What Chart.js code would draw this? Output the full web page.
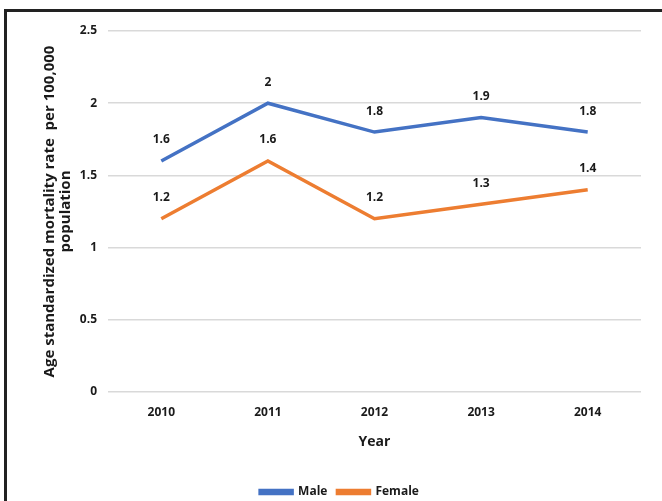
<!DOCTYPE html>
<html>
<head>
<meta charset="utf-8">
<script src="https://cdn.jsdelivr.net/npm/chart.js@4/dist/chart.umd.min.js"></script>
<style>
  body { margin: 0; background: #fff; }
  #wrap { position: relative; width: 662px; height: 501px; overflow: hidden; }
  #frameTop { position: absolute; left: 4px; top: 9px; width: 662px; height: 3px; background: #222; }
  #frameLeft { position: absolute; left: 4px; top: 9px; width: 3px; height: 500px; background: #222; }
</style>
</head>
<body>
<div id="wrap">
  <canvas id="lineChart" width="662" height="501"></canvas>
  <div id="frameTop"></div>
  <div id="frameLeft"></div>
</div>
<script>
// DATA
let years = ["2010", "2011", "2012", "2013", "2014"];
let maleRates = [1.6, 2, 1.8, 1.9, 1.8];
let femaleRates = [1.2, 1.6, 1.2, 1.3, 1.4];
let yTicks = [0, 0.5, 1, 1.5, 2, 2.5];

let fontFamily = "'Open Sans', sans-serif";
let textColor = '#1a1a1a';

// value labels above every point
let pointLabels = {
    id: 'pointLabels',
    afterDatasetsDraw(chart) {
        let ctx = chart.ctx;
        ctx.save();
        ctx.font = 'bold 12px ' + fontFamily;
        ctx.fillStyle = textColor;
        ctx.textAlign = 'center';
        ctx.textBaseline = 'middle';
        chart.data.datasets.forEach((ds, i) => {
            chart.getDatasetMeta(i).data.forEach((pt, j) => {
                ctx.fillText(String(ds.data[j]), pt.x, pt.y - 21);
            });
        });
        ctx.restore();
    }
};

let lineChartCtx = document.getElementById('lineChart').getContext('2d');
let lineChart = new Chart(lineChartCtx, {
    type: 'line',
    data: {
        labels: years,
        datasets: [{
            label: 'Male',
            data: maleRates,
            borderColor: '#4472C4',
            backgroundColor: '#4472C4',
            borderWidth: 3.5,
            pointRadius: 0,
            tension: 0
        }, {
            label: 'Female',
            data: femaleRates,
            borderColor: '#ED7D31',
            backgroundColor: '#ED7D31',
            borderWidth: 3.5,
            pointRadius: 0,
            tension: 0
        }]
    },
    options: {
        responsive: false,
        animation: false,
        layout: { padding: { left: 38, top: 31, right: 21, bottom: -7 } },
        plugins: {
            tooltip: { enabled: false },
            legend: {
                position: 'bottom',
                labels: {
                    boxWidth: 32,
                    boxHeight: 3,
                    padding: 10,
                    color: textColor,
                    font: { family: fontFamily, size: 12, weight: 'bold' }
                }
            }
        },
        scales: {
            x: {
                offset: true,
                grid: { display: false },
                border: { display: false },
                ticks: {
                    padding: 5,
                    color: textColor,
                    font: { family: fontFamily, size: 12, weight: 'bold' }
                },
                title: {
                    display: true,
                    text: 'Year',
                    color: textColor,
                    padding: { top: 4, bottom: 26 },
                    font: { family: fontFamily, size: 14, weight: 'bold' }
                },
                afterFit(scale) { scale.height = 84; }
            },
            y: {
                min: 0,
                max: 2.5,
                afterBuildTicks(scale) { scale.ticks = yTicks.map(v => ({ value: v })); },
                grid: { color: '#d9d9d9', lineWidth: 1.5, drawTicks: false },
                border: { display: false },
                ticks: {
                    padding: 11,
                    color: textColor,
                    font: { family: fontFamily, size: 12, weight: 'bold' },
                    callback: v => String(v)
                },
                title: {
                    display: true,
                    text: ['Age standardized mortality rate  per 100,000', 'population'],
                    color: textColor,
                    padding: { top: 3, bottom: 0 },
                    font: { family: fontFamily, size: 15, weight: 'bold', lineHeight: 1.12 }
                },
                afterFit(scale) { scale.width = 70; }
            }
        }
    },
    plugins: [pointLabels]
});
</script>
</body>
</html>
